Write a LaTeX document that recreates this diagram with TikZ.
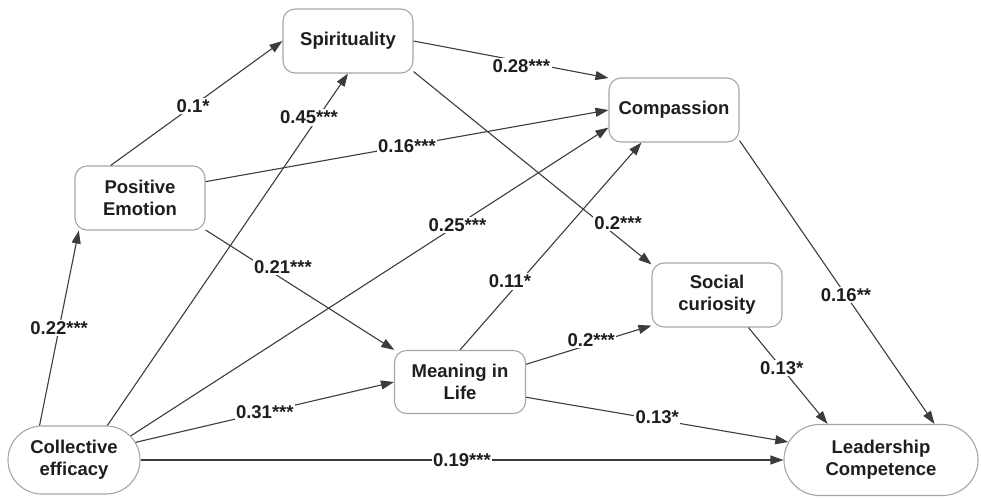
\documentclass[tikz,border=0pt]{standalone}
\usepackage{fontspec}
\setmainfont{Liberation Sans}
\usetikzlibrary{shapes.misc, arrows.meta}
\definecolor{PathGray}{HTML}{3C3C3C}
\definecolor{BoxGray}{HTML}{A6A6A6}
\definecolor{TextBlack}{HTML}{1E1E1E}
\tikzset{
    % Box styles
    construct base/.style={
        draw=BoxGray,
        fill=white,
        line width=1.1pt,
        align=center,
        inner sep=2pt,
        text=TextBlack,
        font=\fontsize{18.5}{22}\selectfont\bfseries
    },
    construct/.style={
        construct base,
        rectangle,
        rounded corners=12pt,
        minimum width=130pt,
        minimum height=64pt
    },
    construct end/.style={
        construct base,
        rounded rectangle,
        minimum width=136pt,
        minimum height=68pt
    },
    coef/.style={
        fill=white,
        inner sep=1.5pt,
        text=TextBlack,
        font=\fontsize{18.5}{22}\selectfont\bfseries
    },
    path arrow/.style={
        -{Triangle[length=13pt, width=9pt]},
        line width=1.1pt,
        PathGray
    }
}

\begin{document}
\begin{tikzpicture}[x=1pt, y=-1pt]
        \useasboundingbox (0,0) rectangle (981,498);

        % Constructs
        \node[construct] (spirit) at (348, 41) {Spirituality};
        \node[construct] (compass) at (674, 110) {Compassion};
        \node[construct] (pos-emo) at (140, 198) {Positive\\Emotion};
        \node[construct] (social-cur) at (717, 295) {Social\\curiosity};
        \node[construct, minimum width=131pt, minimum height=63pt] (meaning) at (460, 382) {Meaning in\\Life};
        \node[construct end] (coll-eff) at (74, 460) {Collective\\efficacy};
        \node[construct end, minimum width=198pt, minimum height=71pt] (leader) at (881, 460) {Leadership\\Competence};

        % Paths from collective efficacy
        \draw[path arrow] (coll-eff.135) -- node[coef, pos=0.5] {0.22***} (pos-emo.208);
        \draw[path arrow] (coll-eff.46) -- node[coef, pos=0.875, xshift=-9pt] {0.45***} (spirit.south);
        \draw[path arrow] (coll-eff.23) -- node[coef, pos=0.684] {0.25***} (compass.195);
        \draw[path arrow] (coll-eff.16) -- node[coef, pos=0.5] {0.31***} (meaning.west);
        \draw[path arrow] (coll-eff.east) -- node[coef, pos=0.5] {0.19***} (leader.west);

        % Paths from positive emotion
        \draw[path arrow] (pos-emo.132) -- node[coef, pos=0.48] {0.1*} (spirit.west);
        \draw[path arrow] (pos-emo.14) -- node[coef, pos=0.5] {0.16***} (compass.west);
        \draw[path arrow] (pos-emo.334) -- node[coef, pos=0.41, yshift=12pt] {0.21***} (meaning.154);

        % Paths from spirituality
        \draw[path arrow] (spirit.east) -- node[coef, pos=0.553, yshift=-5pt] {0.28***} (compass.154);
        \draw[path arrow] (spirit.335) -- node[coef, pos=0.86, yshift=14pt] {0.2***} (social-cur.155);

        % Paths from meaning in life
        \draw[path arrow] (meaning.north) -- node[coef, pos=0.33, xshift=-10pt] {0.11*} (compass.225);
        \draw[path arrow] (meaning.15) -- node[coef, pos=0.52, yshift=4pt] {0.2***} (social-cur.205);
        \draw[path arrow] (meaning.347) -- node[coef, pos=0.5, yshift=2pt] {0.13*} (leader.169);

        % Paths into leadership competence
        \draw[path arrow] (social-cur.314) -- node[coef, pos=0.42] {0.13*} (leader.146);
        \draw[path arrow] (compass.335) -- node[coef, pos=0.546] {0.16**} (leader.34.5);
\end{tikzpicture}
\end{document}
